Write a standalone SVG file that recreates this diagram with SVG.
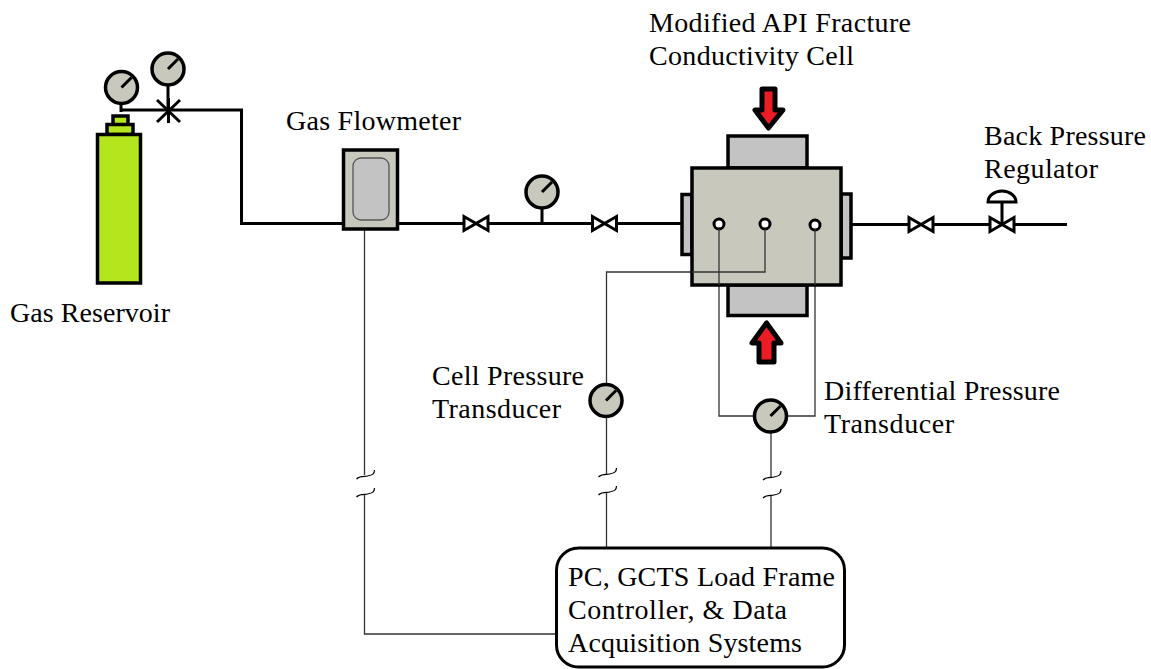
<svg xmlns="http://www.w3.org/2000/svg" width="1151" height="669" viewBox="0 0 1151 669">
<style>
text{font-family:"Liberation Serif","Times New Roman",serif;font-size:28px;fill:#000}
.p{fill:none;stroke:#000;stroke-width:3}
.t{fill:none;stroke:#333;stroke-width:1.3}
.s{fill:none;stroke:#000;stroke-width:1.2}
.b{stroke:#000;stroke-width:3.500}
.g{fill:#c8c8bc}
.l{fill:#c3c3c3}
.v{fill:#fff;stroke:#000;stroke-width:3;stroke-linejoin:miter}
.a{fill:#ed1c24;stroke:#000;stroke-width:5;stroke-linejoin:round}
.d{fill:#fff;stroke:#000;stroke-width:3}
</style>
<defs>
<g id="gauge"><circle r="16" class="g b"/><path d="M0 0L10-10" fill="none" stroke="#000" stroke-width="3"/></g>
<g id="valve"><path d="M-12-7V7L0 0ZM12-7V7L0 0Z" class="v"/></g>
<g id="brk"><path d="M-8 9C-4 5 1 7 3 6C8 5 10 4 10 0M-8 27C-4 23 1 25 3 24C8 23 10 22 10 18" class="s"/></g>
</defs>
<g id="connectors">
<path class="p" d="M121 110H241.500V223.500H343M398 223.500H692M851 224.500H1067"/>
<path class="p" d="M121 100V112M168 84V110M542 207V223.500M1002 202V224"/>
<path class="t" d="M364.500 229V475M364.500 494V634H556"/>
<path class="t" d="M765 228V272H606.500V384M606.500 417V474M606.500 492V548"/>
<path class="t" d="M719 228V416H754M815 228V416H787M771 432V477M771 495V548"/>
<use href="#brk" x="364.500" y="470"/>
<use href="#brk" x="606.500" y="468"/>
<use href="#brk" x="771" y="471"/>
</g>
<g id="gas-reservoir">
<rect x="113" y="116" width="15" height="9" fill="#b5e61d" class="b"/>
<rect x="107" y="124.500" width="26" height="10" fill="#b5e61d" class="b"/>
<rect x="97.500" y="134.500" width="43" height="148.500" fill="#b5e61d" class="b"/>
<use href="#gauge" x="121.500" y="87.500"/>
<text x="10" y="322" textLength="160">Gas Reservoir</text>
</g>
<g id="reservoir-valve">
<path class="p" d="M157 100L180 122M180 100L157 122M168.500 98V123"/>
<use href="#gauge" x="168" y="69"/>
</g>
<g id="gas-flowmeter">
<rect x="343.500" y="150" width="54" height="79" class="g b"/>
<rect x="353" y="158" width="36" height="62" rx="8" class="l" stroke="#555" stroke-width="1.300"/>
<text x="286" y="130" textLength="175">Gas Flowmeter</text>
</g>
<g id="valve-1"><use href="#valve" x="476" y="223.500"/></g>
<g id="line-gauge"><use href="#gauge" x="542" y="192"/></g>
<g id="valve-2"><use href="#valve" x="604.500" y="223.500"/></g>
<g id="cell">
<rect x="728" y="136" width="79" height="32" class="l b"/>
<rect x="728" y="285" width="79" height="30.500" class="l b"/>
<rect x="682" y="194.500" width="10" height="60" class="l b"/>
<rect x="841" y="194" width="10" height="64" class="l b"/>
<rect x="692" y="168" width="149" height="117" class="g b"/>
<circle cx="719" cy="224" r="5" class="d"/>
<circle cx="765" cy="224" r="5" class="d"/>
<circle cx="815" cy="225" r="5" class="d"/>
<path class="t" d="M765 229V272H692M719 229V285M815 229V285"/>
<path class="a" d="M762 89H775V110H783L768.500 128L755 110H762Z"/>
<path class="a" d="M759 362H774V343H781L766.500 323L752 343H759Z"/>
<text x="649" y="32" textLength="262">Modified API Fracture</text>
<text x="649" y="65" textLength="205">Conductivity Cell</text>
</g>
<g id="cell-pressure-transducer">
<use href="#gauge" x="606" y="400.500"/>
<text x="432" y="385" textLength="152">Cell Pressure</text>
<text x="432" y="418" textLength="129">Transducer</text>
</g>
<g id="differential-pressure-transducer">
<use href="#gauge" x="770.500" y="416"/>
<text x="824" y="400" textLength="236">Differential Pressure</text>
<text x="824" y="433" textLength="130">Transducer</text>
</g>
<g id="valve-3"><use href="#valve" x="921" y="224.500"/></g>
<g id="back-pressure-regulator">
<use href="#valve" x="1002" y="224.500"/>
<path d="M988 202A14 11 0 0 1 1016 202Z" fill="#fff" stroke="#000" stroke-width="3"/>
<text x="984" y="145" textLength="162">Back Pressure</text>
<text x="984" y="178" textLength="114">Regulator</text>
</g>
<g id="controller">
<rect x="556.500" y="548" width="288" height="119" rx="22" fill="#fff" stroke="#000" stroke-width="3"/>
<text x="568" y="586" textLength="267">PC, GCTS Load Frame</text>
<text x="568" y="619" textLength="219">Controller, &amp; Data</text>
<text x="568" y="652" textLength="234">Acquisition Systems</text>
</g>
</svg>
